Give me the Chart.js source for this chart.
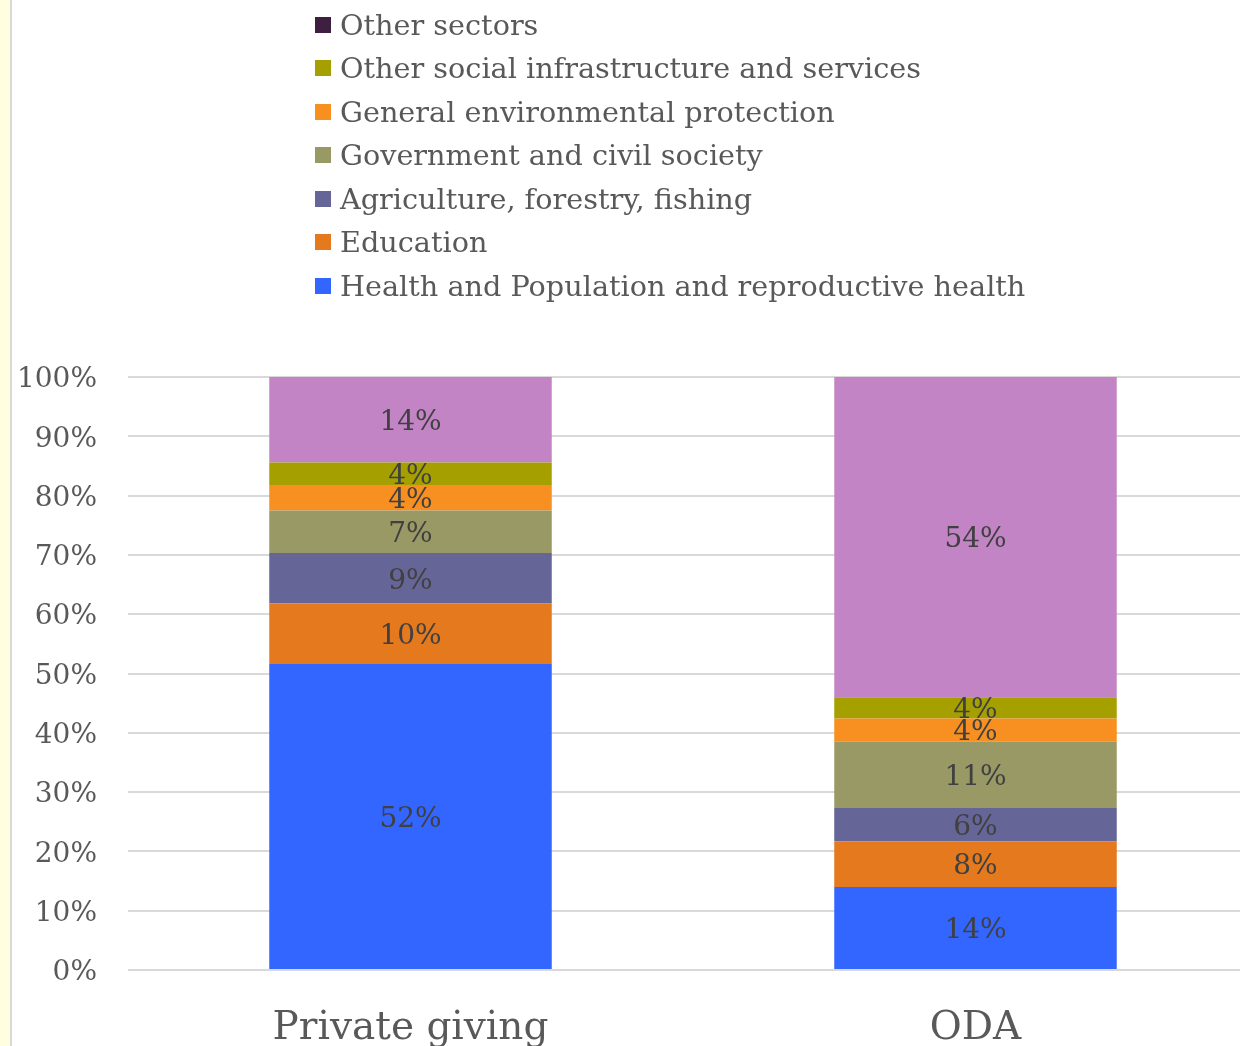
<!DOCTYPE html>
<html><head><meta charset="utf-8">
<script src="https://cdn.jsdelivr.net/npm/chart.js@4"></script>
<style>
html,body{margin:0;padding:0;width:1240px;height:1046px;overflow:hidden;background:#fff;}
#wrap{position:absolute;left:0;top:0;width:1258px;height:1100px;}
#stripe{position:absolute;left:0;top:0;width:10px;height:1046px;background:#ffffe0;border-right:2px solid #d9d9d9;z-index:2}
#legend{position:absolute;left:315px;top:3px;font-family:"DejaVu Serif";font-size:28.7px;color:#595959;z-index:3;white-space:nowrap}
.item{height:43.5px;display:flex;align-items:center;}
.box{width:16px;height:16px;margin-right:9px;flex:none}
</style></head>
<body>
<div id="stripe"></div>
<div id="legend"></div>
<div id="wrap"><canvas id="c" width="1258" height="1100"></canvas></div>
<script>
const categories = ["Private giving", "ODA"];
const seriesNames = [
  "Health and Population and reproductive health",
  "Education",
  "Agriculture, forestry, fishing",
  "Government and civil society",
  "General environmental protection",
  "Other social infrastructure and services",
  "Other sectors"
];
const health = [51.6, 14.0];
const education = [10.2, 7.7];
const agriculture = [8.5, 5.6];
const government = [7.2, 11.2];
const environment = [4.3, 3.9];
const otherSocial = [3.8, 3.6];
const otherSectors = [14.4, 54.0];
const barColors = ["#3366ff", "#e5791d", "#656597", "#999966", "#f79021", "#a5a000", "#c384c6"];
const legendColors = ["#3366ff", "#e5791d", "#656597", "#999966", "#f79021", "#a5a000", "#3f1f3f"];
const yTicks = [0,10,20,30,40,50,60,70,80,90,100];

const seriesData = [health, education, agriculture, government, environment, otherSocial, otherSectors];

const leg = document.getElementById('legend');
for (let i = seriesNames.length - 1; i >= 0; i--) {
  const d = document.createElement('div'); d.className = 'item';
  const b = document.createElement('span'); b.className = 'box'; b.style.background = legendColors[i];
  const t = document.createElement('span'); t.textContent = seriesNames[i];
  d.appendChild(b); d.appendChild(t); leg.appendChild(d);
}

const FONT = '"DejaVu Serif"';
const labelPlugin = {
  id: 'segLabels',
  afterDatasetsDraw(chart) {
    const ctx = chart.ctx;
    ctx.save();
    ctx.font = '28px ' + FONT;
    ctx.fillStyle = '#404040';
    ctx.textAlign = 'center';
    ctx.textBaseline = 'middle';
    chart.data.datasets.forEach((ds, di) => {
      const meta = chart.getDatasetMeta(di);
      meta.data.forEach((el, i) => {
        const v = ds.data[i];
        ctx.fillText(Math.round(v) + '%', el.x, (el.y + el.base) / 2 + 3);
      });
    });
    ctx.restore();
  }
};

new Chart(document.getElementById('c'), {
  type: 'bar',
  data: {
    labels: categories,
    datasets: seriesNames.map((n, i) => ({
      label: n,
      data: seriesData[i],
      backgroundColor: barColors[i],
      borderWidth: 0,
      barPercentage: 0.5,
      categoryPercentage: 1.0
    }))
  },
  options: {
    responsive: false,
    animation: false,
    layout: { padding: { top: 377, left: 0, right: 0, bottom: 0 } },
    plugins: { legend: { display: false }, tooltip: { enabled: false } },
    scales: {
      x: {
        stacked: true,
        grid: { display: false },
        border: { display: false },
        ticks: { color: '#595959', font: { family: FONT, size: 39 }, padding: 27 },
        afterFit(s) { s.height = 1100 - 970; }
      },
      y: {
        stacked: true,
        min: 0, max: 100,
        afterBuildTicks(s) { s.ticks = yTicks.map(v => ({ value: v })); },
        ticks: { color: '#595959', font: { family: FONT, size: 28 }, padding: 31, labelOffset: 3, callback: v => v + '%' },
        grid: { color: '#d9d9d9', lineWidth: 2, drawTicks: false },
        border: { display: false },
        afterFit(s) { s.width = 128; }
      }
    }
  },
  plugins: [labelPlugin]
});
</script>
</body></html>
